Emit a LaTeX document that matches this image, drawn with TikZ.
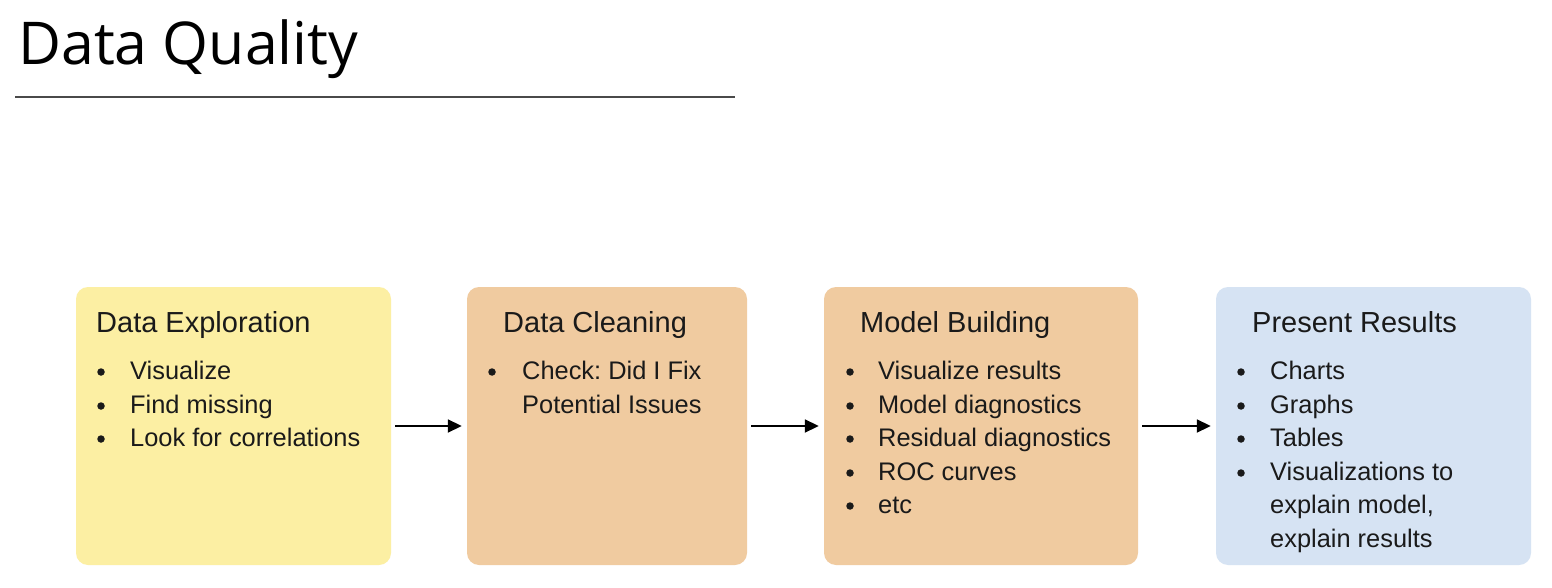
\documentclass[tikz,border=0pt]{standalone}
\usepackage{fontspec}
\setmainfont{Liberation Sans}
\newfontfamily\titlefont{Open Sans}
\usetikzlibrary{arrows.meta}
\definecolor{boxyellow}{HTML}{FCEFA3}
\definecolor{boxorange}{HTML}{F0CBA0}
\definecolor{boxblue}{HTML}{D6E3F3}
\definecolor{txt}{HTML}{1A1A1A}
\definecolor{rulegray}{HTML}{4A4A4A}
\frenchspacing
\begin{document}
\begin{tikzpicture}[x=1pt,y=-1pt,
  panel/.style={rounded corners=12pt, inner sep=0pt, minimum height=278pt},
  head/.style={anchor=base west, inner sep=0pt, text=txt, font=\fontsize{29}{33}\selectfont},
  item/.style={anchor=base west, inner sep=0pt, text=txt, font=\fontsize{25.4}{29}\selectfont},
  dot/.style={circle, inner sep=0pt, minimum size=7.5pt, fill=txt},
  flow/.style={-{Triangle[length=14pt,width=13pt]}, line width=1.8pt, draw=black,
    shorten <=4pt, shorten >=5pt}]
\useasboundingbox (0,0) rectangle (1552,588);
\fill[white] (0,0) rectangle (1552,588);

% title
\node[anchor=base west, inner sep=0pt, text=black, font=\titlefont\fontsize{59}{66}\selectfont] (title) at (18,65) {Data Quality};
\coordinate (r1) at (15,97);
\coordinate (r2) at (735,97);
\draw[line width=2.5pt, rulegray] (r1) -- (r2);

% panels
\node[panel, fill=boxyellow, minimum width=315pt] (b1) at (233.5,426) {};
\node[panel, fill=boxorange, minimum width=280pt] (b2) at (607,426) {};
\node[panel, fill=boxorange, minimum width=314pt] (b3) at (981,426) {};
\node[panel, fill=boxblue, minimum width=315pt] (b4) at (1373.5,426) {};

% box 1
\node[head] (h1) at (96,332) {Data Exploration};
\node[dot] (d11) at (101,372) {};
\node[item] (t11) at (130,379) {Visualize};
\node[dot] (d12) at (101,406) {};
\node[item] (t12) at (130,413) {Find missing};
\node[dot] (d13) at (101,439) {};
\node[item] (t13) at (130,446) {Look for correlations};

% box 2
\node[head] (h2) at (503,332) {Data Cleaning};
\node[dot] (d21) at (492,372) {};
\node[item] (t21) at (522,379) {Check: Did I Fix};
\node[item] (t22) at (522,413) {Potential Issues};

% box 3
\node[head] (h3) at (860,332) {Model Building};
\node[dot] (d31) at (850,372) {};
\node[item] (t31) at (878,379) {Visualize results};
\node[dot] (d32) at (850,406) {};
\node[item] (t32) at (878,413) {Model diagnostics};
\node[dot] (d33) at (850,439) {};
\node[item] (t33) at (878,446) {Residual diagnostics};
\node[dot] (d34) at (850,473) {};
\node[item] (t34) at (878,480) {ROC curves};
\node[dot] (d35) at (850,506) {};
\node[item] (t35) at (878,513) {etc};

% box 4
\node[head] (h4) at (1252,332) {Present Results};
\node[dot] (d41) at (1241,372) {};
\node[item] (t41) at (1270,379) {Charts};
\node[dot] (d42) at (1241,406) {};
\node[item] (t42) at (1270,413) {Graphs};
\node[dot] (d43) at (1241,439) {};
\node[item] (t43) at (1270,446) {Tables};
\node[dot] (d44) at (1241,473) {};
\node[item] (t44) at (1270,480) {Visualizations to};
\node[item] (t45) at (1270,513) {explain model,};
\node[item] (t46) at (1270,547) {explain results};

% arrows
\draw[flow] (b1.east) -- (b2.west);
\draw[flow] (b2.east) -- (b3.west);
\draw[flow] (b3.east) -- (b4.west);
\end{tikzpicture}
\end{document}
